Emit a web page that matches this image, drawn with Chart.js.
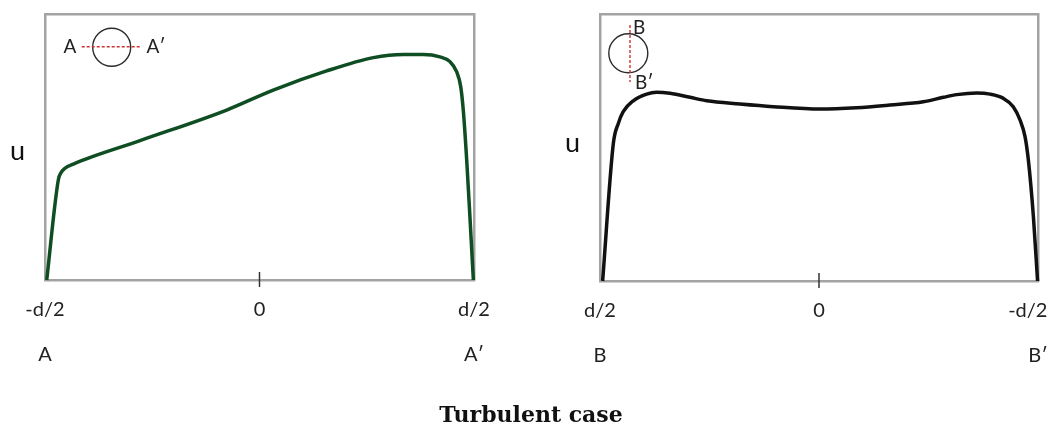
<!DOCTYPE html>
<html>
<head>
<meta charset="utf-8">
<title>Turbulent case</title>
<script src="https://cdn.jsdelivr.net/npm/chart.js@4.4.0/dist/chart.umd.min.js"></script>
<style>
  html, body { margin: 0; padding: 0; background: #fff; }
  #wrap { position: relative; width: 1051px; height: 428px; overflow: hidden; }
  #leftChart { position: absolute; left: 0; top: 0; }
  #rightChart { position: absolute; left: 525px; top: 0; }
  #caption {
    position: absolute; left: 0; top: 402px; width: 1062px;
    text-align: center; font: bold 22px "DejaVu Serif", serif; line-height: 25px; color: #111;
  }
</style>
</head>
<body>
<div id="wrap">
  <canvas id="leftChart" width="525" height="428"></canvas>
  <canvas id="rightChart" width="526" height="428"></canvas>
  <div id="caption">Turbulent case</div>
</div>
<script>
// section A-A' (x from -d/2 to d/2, u normalised to frame height)
const leftX = [-0.992, -0.938, -0.927, -0.907, -0.868, -0.557, -0.153, 0.064, 0.313, 0.531, 0.671, 0.764, 0.841, 0.888, 0.919, 0.938, 0.950, 0.966, 0.981, 0.997];
const leftU = [0, 0.376, 0.401, 0.420, 0.436, 0.524, 0.639, 0.714, 0.786, 0.836, 0.848, 0.848, 0.839, 0.821, 0.783, 0.727, 0.639, 0.451, 0.238, 0];

// section B-B' (drawn from d/2 on the left to -d/2 on the right)
const rightX = [0.988, 0.939, 0.916, 0.894, 0.848, 0.787, 0.741, 0.680, 0.589, 0.513, 0.361, 0.209, -0.005, -0.172, -0.324, -0.476, -0.568, -0.629, -0.720, -0.781, -0.842, -0.887, -0.918, -0.941, -0.956, -0.979, -0.998];
const rightU = [0, 0.516, 0.591, 0.634, 0.675, 0.700, 0.707, 0.703, 0.688, 0.675, 0.663, 0.653, 0.644, 0.649, 0.659, 0.671, 0.688, 0.698, 0.704, 0.700, 0.684, 0.653, 0.603, 0.540, 0.453, 0.241, 0];

const xTickValues = [-1, 0, 1];
const leftTickLabels = [['-d/2', 'A'], ['0'], ['d/2', 'A\u2032']];
const rightTickLabels = [['-d/2    ', 'B\u2032'], ['0'], ['d/2', 'B']];
const leftUTick = 0.485;
const rightUTick = 0.515;

const frameColor = '#a3a3a3';
const labelFont = { family: 'Lato', size: 20, lineHeight: 2.25 };

// small tick at x = 0 crossing the bottom frame line
const zeroTick = {
  id: 'zeroTick',
  afterDraw(chart) {
    const { ctx, chartArea } = chart;
    const px = chart.scales.x.getPixelForValue(0);
    ctx.save();
    ctx.strokeStyle = '#333';
    ctx.lineWidth = 1.5;
    ctx.beginPath();
    ctx.moveTo(px, chartArea.bottom - 8);
    ctx.lineTo(px, chartArea.bottom + 7);
    ctx.stroke();
    ctx.restore();
  }
};

function insetPlugin(draw) {
  return {
    id: 'inset',
    afterDraw(chart) {
      const { ctx, chartArea } = chart;
      ctx.save();
      ctx.translate(chartArea.left, chartArea.top);
      draw(ctx);
      ctx.restore();
    }
  };
}

function circle(ctx, cx, cy, r) {
  ctx.strokeStyle = '#2b2b2b';
  ctx.lineWidth = 1.4;
  ctx.setLineDash([]);
  ctx.beginPath();
  ctx.arc(cx, cy, r, 0, Math.PI * 2);
  ctx.stroke();
}

function redDash(ctx, x1, y1, x2, y2) {
  ctx.strokeStyle = '#cc3333';
  ctx.lineWidth = 1.4;
  ctx.setLineDash([3, 2]);
  ctx.beginPath();
  ctx.moveTo(x1, y1);
  ctx.lineTo(x2, y2);
  ctx.stroke();
  ctx.setLineDash([]);
}

const leftInset = insetPlugin(ctx => {
  circle(ctx, 66.7, 33.3, 19);
  redDash(ctx, 36.7, 32.7, 96.7, 32.7);
  ctx.fillStyle = '#222';
  ctx.font = '19px Lato';
  ctx.textAlign = 'center';
  ctx.textBaseline = 'middle';
  ctx.fillText('A', 25, 33);
  ctx.fillText('A\u2032', 111, 33);
});

const rightInset = insetPlugin(ctx => {
  circle(ctx, 28.3, 39.3, 19.5);
  redDash(ctx, 30, 11, 30, 68);
  ctx.fillStyle = '#222';
  ctx.font = '19px Lato';
  ctx.textAlign = 'left';
  ctx.textBaseline = 'middle';
  ctx.fillText('B', 33, 14);
  ctx.fillText('B\u2032', 35, 69);
});

function makeChart(id, xs, us, color, opts) {
  return new Chart(document.getElementById(id), {
    type: 'line',
    data: {
      datasets: [{
        data: xs.map((x, i) => ({ x: x, y: us[i] })),
        borderColor: color,
        borderWidth: 3.5,
        pointRadius: 0,
        fill: false,
        cubicInterpolationMode: 'monotone',
        clip: 4
      }]
    },
    options: {
      responsive: false,
      animation: false,
      layout: { padding: { top: 14, right: opts.padRight, bottom: 0, left: 0 } },
      plugins: { legend: { display: false }, tooltip: { enabled: false } },
      scales: {
        x: {
          type: 'linear', position: 'bottom', min: -1, max: 1, reverse: opts.reverse,
          afterBuildTicks: s => { s.ticks = xTickValues.map(v => ({ value: v })); },
          afterFit: s => { s.height = opts.xHeight; s.paddingLeft = 0; s.paddingRight = 0; },
          grid: { display: false, drawTicks: false },
          border: { display: true, color: frameColor, width: 2.5 },
          ticks: {
            autoSkip: false, maxRotation: 0, padding: 7.5, color: '#222', font: labelFont,
            callback: (v, i) => opts.tickLabels[i]
          }
        },
        xTop: {
          type: 'linear', position: 'top', min: -1, max: 1,
          afterFit: s => { s.height = 0; s.paddingLeft = 0; s.paddingRight = 0; },
          grid: { display: false, drawTicks: false },
          border: { display: true, color: frameColor, width: 2.5 },
          ticks: { display: false }
        },
        y: {
          type: 'linear', position: 'left', min: 0, max: 1,
          afterBuildTicks: s => { s.ticks = [{ value: opts.uTick }]; },
          afterFit: s => { s.width = opts.yWidth; s.paddingTop = 0; s.paddingBottom = 0; },
          grid: { display: false, drawTicks: false },
          border: { display: true, color: frameColor, width: 2.5 },
          ticks: { padding: 20, color: '#111', font: { family: 'Lato', size: 27 }, callback: () => 'u' }
        },
        yRight: {
          type: 'linear', position: 'right', min: 0, max: 1,
          afterFit: s => { s.width = 0; s.paddingTop = 0; s.paddingBottom = 0; },
          grid: { display: false, drawTicks: false },
          border: { display: true, color: frameColor, width: 2.5 },
          ticks: { display: false }
        }
      }
    },
    plugins: [zeroTick, opts.inset]
  });
}

makeChart('leftChart', leftX, leftU, '#0f4d22', {
  reverse: false, padRight: 51, xHeight: 148, yWidth: 45,
  tickLabels: leftTickLabels, uTick: leftUTick, inset: leftInset
});

makeChart('rightChart', rightX, rightU, '#111111', {
  reverse: true, padRight: 13, xHeight: 147, yWidth: 75,
  tickLabels: rightTickLabels, uTick: rightUTick, inset: rightInset
});
</script>
</body>
</html>
